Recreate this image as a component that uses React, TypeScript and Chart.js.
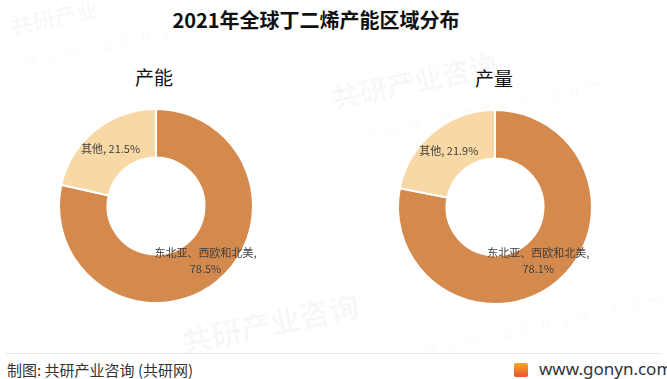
import React, { useEffect, useRef } from "react";
import { Chart, registerables } from "chart.js";

Chart.register(...registerables);

const title = "2021年全球丁二烯产能区域分布";
const categories = ["东北亚、西欧和北美", "其他"];
const capacityValues = [78.5, 21.5];
const outputValues = [78.1, 21.9];
const chartTitles = ["产能", "产量"];
const colors = ["#D48A4D", "#F8D9A5"];

const labelPlugin = {
  id: "sliceLabels",
  afterDatasetsDraw(chart: any, _args: any, opts: any) {
    const ctx = chart.ctx;
    const meta = chart.getDatasetMeta(0);
    const data = chart.data.datasets[0].data as number[];
    const labels = chart.data.labels as string[];
    const offsets = (opts && opts.offsets) || [];
    ctx.save();
    ctx.font = '11px "Microsoft YaHei", "Noto Sans CJK SC", sans-serif';
    ctx.fillStyle = "#404040";
    ctx.textAlign = "center";
    ctx.textBaseline = "middle";
    meta.data.forEach((arc: any, i: number) => {
      const p = arc.tooltipPosition();
      const off = offsets[i] || [0, 0];
      const x = p.x + off[0];
      const y = p.y + off[1];
      const text = `${labels[i]}, ${data[i].toFixed(1)}%`;
      const w = ctx.measureText(text).width;
      if (w > 90) {
        ctx.fillText(`${labels[i]},`, x, y - 8);
        ctx.fillText(`${data[i].toFixed(1)}%`, x, y + 8);
      } else {
        ctx.fillText(text, x, y);
      }
    });
    ctx.restore();
  },
};

function Donut({ values, left, top, offsets }: { values: number[]; left: number; top: number; offsets: number[][] }) {
  const ref = useRef<HTMLCanvasElement | null>(null);
  useEffect(() => {
    if (!ref.current) return;
    const chart = new Chart(ref.current, {
      type: "doughnut",
      data: {
        labels: categories,
        datasets: [
          {
            data: values,
            backgroundColor: colors,
            borderColor: "#ffffff",
            borderWidth: 2,
          },
        ],
      },
      options: {
        animation: false,
        responsive: false,
        cutout: "50%",
        layout: { padding: { top: 22, bottom: 22, left: 52, right: 52 } },
        plugins: {
          legend: { display: false },
          tooltip: { enabled: false },
          title: { display: false },
          sliceLabels: { offsets },
        } as any,
      },
      plugins: [labelPlugin],
    });
    return () => chart.destroy();
  }, []);
  return (
    <canvas
      ref={ref}
      width={300}
      height={240}
      style={{ position: "absolute", left, top, width: 300, height: 240 }}
    />
  );
}

export default function App() {
  useEffect(() => {
    document.body.style.margin = "0";
  }, []);
  const font = '"Microsoft YaHei", "Noto Sans CJK SC", sans-serif';
  const wm = { position: "absolute" as const, color: "rgba(0,0,0,0.035)", fontWeight: 700, fontFamily: font, whiteSpace: "nowrap" as const, transform: "rotate(-12deg)" };
  return (
    <div style={{ position: "relative", width: 667, height: 379, background: "#fff", overflow: "hidden", fontFamily: font }}>
      <div style={{ ...wm, left: 10, top: 0, fontSize: 22 }}>共研产业</div>
      <div style={{ ...wm, left: 20, top: 22, fontSize: 16, fontWeight: 400, letterSpacing: 10 }}>www.gonyn.com</div>
      <div style={{ ...wm, left: 330, top: 60, fontSize: 28 }}>共研产业咨询</div>
      <div style={{ ...wm, left: 360, top: 95, fontSize: 16, fontWeight: 400, letterSpacing: 10 }}>www.gonyn.com</div>
      <div style={{ ...wm, left: 180, top: 300, fontSize: 30 }}>共研产业咨询</div>
      <div style={{ ...wm, left: 420, top: 310, fontSize: 16, fontWeight: 400, letterSpacing: 10 }}>www.gonyn.com</div>
      <div style={{ position: "absolute", left: 0, width: 632, top: 6, textAlign: "center", fontSize: 20, fontWeight: 700, color: "#111", lineHeight: "28px" }}>
        {title}
      </div>
      <div style={{ position: "absolute", left: 114, width: 80, top: 63, textAlign: "center", fontSize: 19, color: "#111", lineHeight: "28px" }}>
        {chartTitles[0]}
      </div>
      <div style={{ position: "absolute", left: 454, width: 80, top: 64, textAlign: "center", fontSize: 19, color: "#111", lineHeight: "28px" }}>
        {chartTitles[1]}
      </div>
      <Donut values={capacityValues} left={6} top={86} offsets={[[4, -2], [0, 0]]} />
      <Donut values={outputValues} left={345} top={87} offsets={[[-3, -2], [0, 0]]} />
      <div style={{ position: "absolute", left: 6, right: 6, top: 353, height: 1, background: "#e6e6e6" }} />
      <div style={{ position: "absolute", left: 7, top: 360, fontSize: 15, color: "#333", lineHeight: "20px" }}>
        制图: 共研产业咨询 (共研网)
      </div>
      <div style={{ position: "absolute", left: 514, top: 363, width: 14, height: 14, background: "linear-gradient(#f6a623, #e8532b)", borderRadius: 2 }} />
      <div style={{ position: "absolute", left: 539, top: 359, fontSize: 17, color: "#333", lineHeight: "20px", fontFamily: '"Noto Sans", sans-serif' }}>
        www.gonyn.com
      </div>
    </div>
  );
}
